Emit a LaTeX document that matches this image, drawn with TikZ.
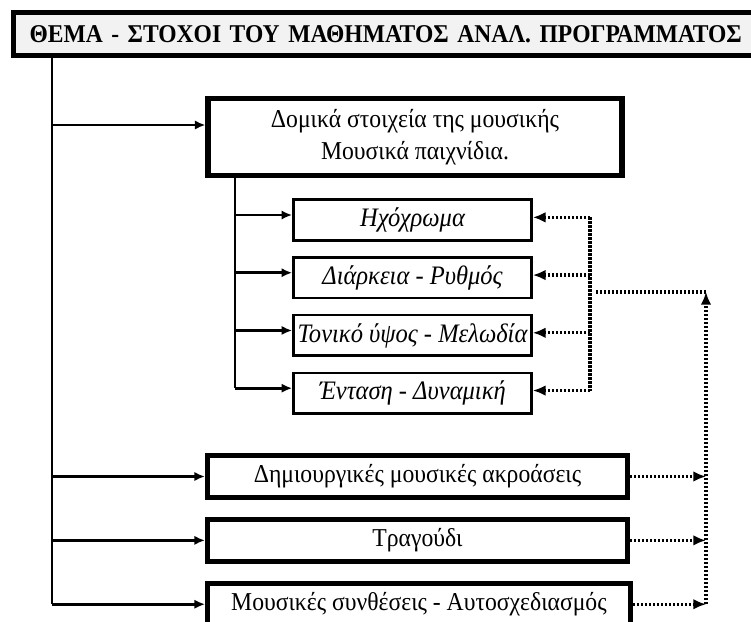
\documentclass[tikz,border=0pt]{standalone}
\usepackage{fontspec}
\setmainfont{Liberation Serif}[FakeStretch=0.92]
\usetikzlibrary{positioning,arrows.meta}

\begin{document}
\begin{tikzpicture}[x=0.75pt,y=-0.75pt]
	\tikzstyle{hd}=[draw, line width=3.8pt, fill=black!5, anchor=west, inner xsep=12pt, text width=590pt, align=left, minimum height=32.25pt, font=\fontsize{19.2}{21}\selectfont\bfseries]
	\tikzstyle{tb}=[draw, line width=3.8pt, inner sep=1pt, minimum height=31.5pt, align=center, font=\fontsize{19.3}{23.5}\selectfont]
	\tikzstyle{nb}=[draw, line width=2pt, inner sep=1pt, minimum width=178.5pt, minimum height=30.5pt, font=\fontsize{20}{22}\selectfont\itshape]
	\tikzstyle{ln}=[line width=2pt, -{Latex[length=8pt,width=7pt]}]
	\tikzstyle{dl}=[line width=2.4pt, dash pattern=on 1.7pt off 1.3pt]
	\tikzstyle{dt}=[dl, -{Latex[length=9.5pt,width=8pt]}]

	\useasboundingbox (0,0) rectangle (751,622);

	\node[hd] (theme) at (11,34) {ΘΕΜΑ - ΣΤΟΧΟΙ ΤΟΥ ΜΑΘΗΜΑΤΟΣ ΑΝΑΛ. ΠΡΟΓΡΑΜΜΑΤΟΣ};
	\node[tb, minimum width=310.5pt, minimum height=57.75pt] (dom) at (415,137) {Δομικά στοιχεία της μουσικής\\Μουσικά παιχνίδια.};

	\node[nb] (hx) at (412.5,220) {Ηχόχρωμα};
	\node[nb, below=10.8pt of hx] (dr) {Διάρκεια - Ρυθμός};
	\node[nb, below=10.8pt of dr] (tn) {Τονικό ύψος - Μελωδία};
	\node[nb, below=10.8pt of tn] (en) {Ένταση - Δυναμική};

	\node[tb, minimum width=315pt] (cr) at (417.5,476.5) {Δημιουργικές μουσικές ακροάσεις};
	\node[tb, minimum width=315pt, below=12.6pt of cr] (sg) {Τραγούδι};
	\node[tb, minimum width=317pt, below=12.6pt of sg, xshift=1.1pt] (cp) {Μουσικές συνθέσεις - Αυτοσχεδιασμός};

	\coordinate (t1) at (52,125);
	\coordinate (sb) at (235,0);
	\coordinate (hub) at (590,0);
	\coordinate (hb) at (596,292);
	\coordinate (up) at (706,292);

	% main line
	\draw[line width=2pt] (t1 |- theme.south) -- (t1 |- cp.west);
	\draw[ln] (t1) -- (t1 -| dom.west);
	\foreach \n in {cr,sg,cp}
		\draw[ln] (\n.west -| t1) -- (\n.west);

	% elements
	\draw[line width=2pt] (sb |- dom.south) -- ([yshift=3.75pt]en.west -| sb);
	\foreach \n in {hx,dr,tn,en}
		\draw[ln] ([yshift=3.75pt]\n.west -| sb) -- ([yshift=3.75pt]\n.west);

	\draw[dl] ([yshift=2pt]hx.east -| hub) -- ([yshift=2pt]en.east -| hub);
	\foreach \n in {hx,dr,tn,en}
		\draw[dt] ([yshift=2pt]\n.east -| hub) -- ([yshift=2pt]\n.east);

	% right side
	\draw[dl] (hb) -- (up);
	\draw[dt] (cp.east -| up) -- (up);
	\foreach \n in {cr,sg,cp}
		\draw[dt] (\n.east) -- (\n.east -| up);
\end{tikzpicture}
\end{document}
